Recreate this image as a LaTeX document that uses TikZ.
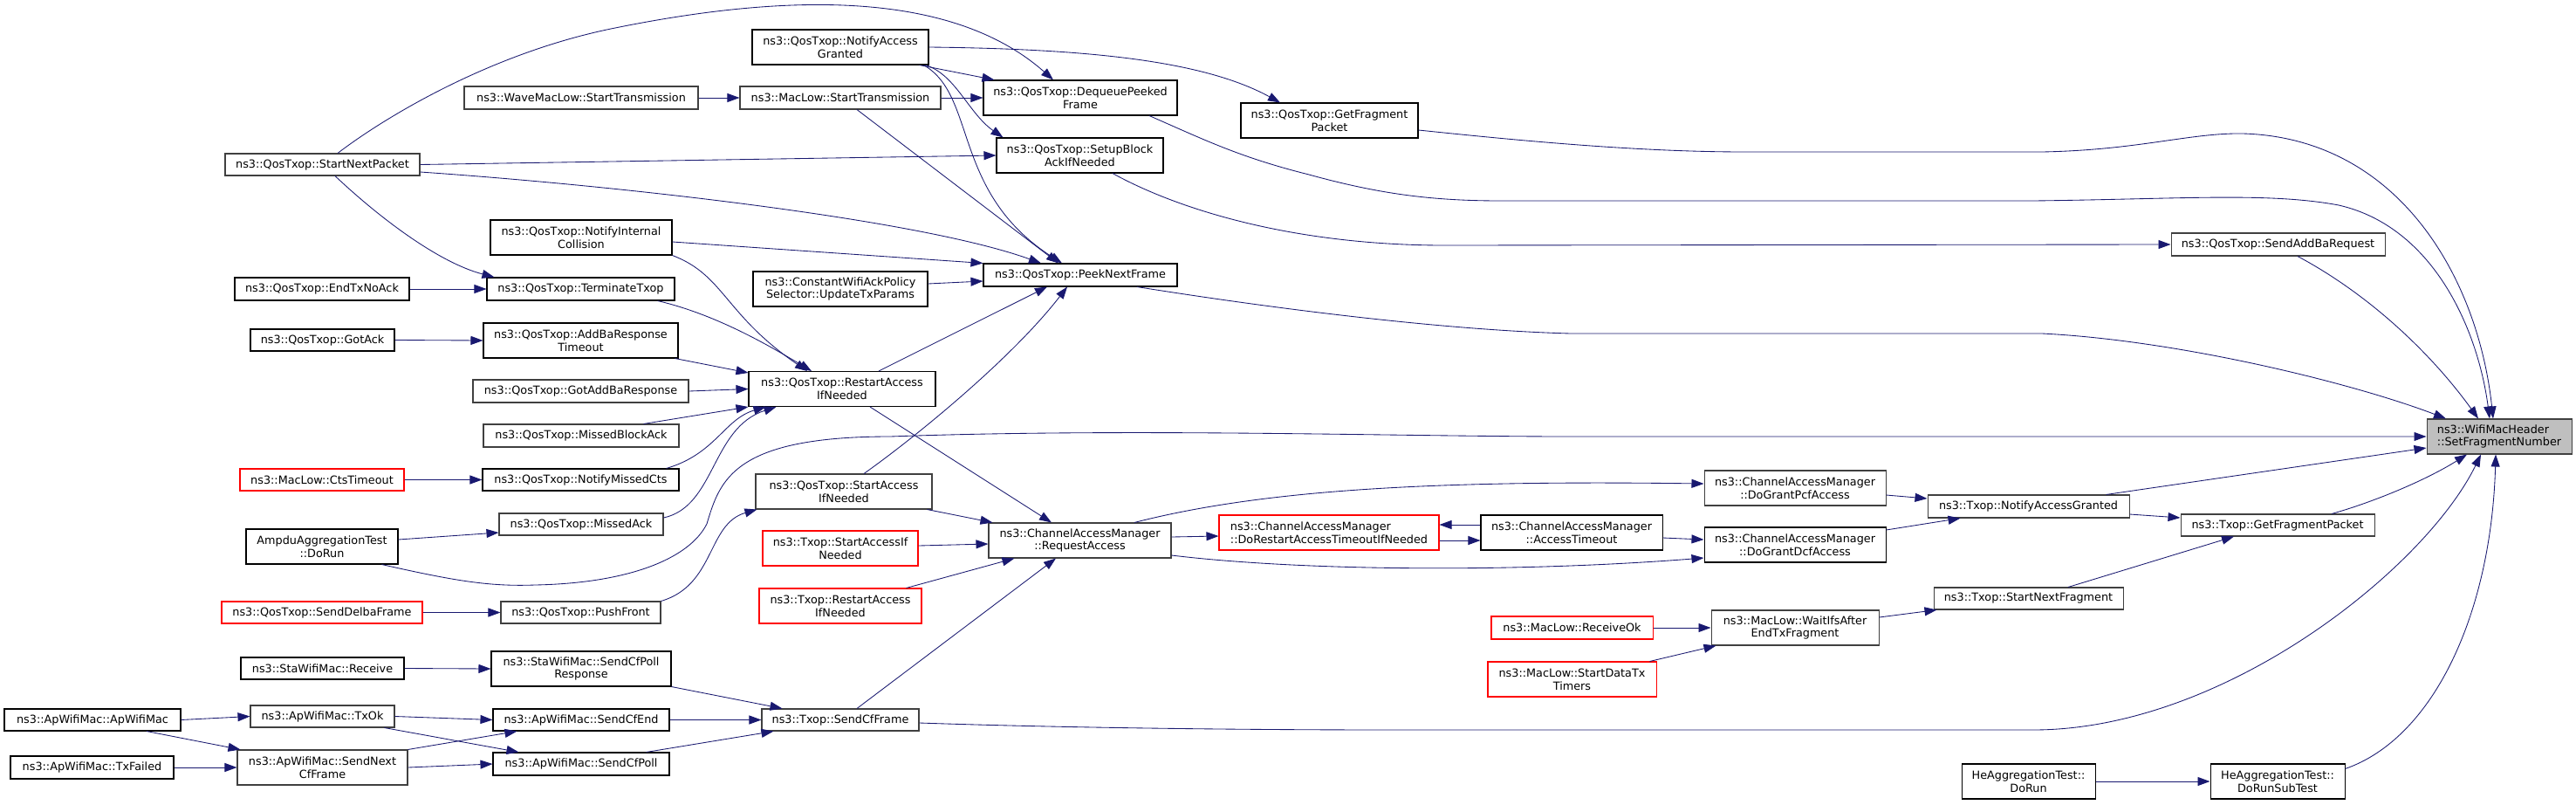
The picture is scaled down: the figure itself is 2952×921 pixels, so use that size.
\documentclass[tikz,border=0pt]{standalone}
\usepackage{fontspec}
\setmainfont{DejaVu Sans}
\usetikzlibrary{arrows.meta,calc}
\definecolor{mb}{HTML}{191970}
\definecolor{gtwentyfive}{HTML}{404040}
\definecolor{gseventyfive}{HTML}{BFBFBF}
\begin{document}
\begin{tikzpicture}[x=1pt,y=-1pt,
  nb/.style={draw=black, fill=white, line width=1.05pt, inner sep=0pt, align=center,
     font=\fontsize{12.8}{14.7}\selectfont},
  ng/.style={nb, draw=gtwentyfive},
  nr/.style={nb, draw=red},
  nroot/.style={nb, draw=gtwentyfive, fill=gseventyfive, align=left},
  sz/.style 2 args={minimum width=#1pt, minimum height=#2pt},
  e/.style={draw=mb, line width=0.85pt, -{Triangle[length=14pt,width=10pt]}}]
\useasboundingbox (0,0) rectangle (2952,921);
\fill[white] (0,0) rectangle (2952,921);

% nodes
\node[ng,sz={223}{25}] (snp) at (369.5,188.5) {ns3::QosTxop::StartNextPacket};
\node[nb,sz={200}{26}] (etna) at (369,331) {ns3::QosTxop::EndTxNoAck};
\node[nb,sz={165}{25}] (gack) at (369.5,389.5) {ns3::QosTxop::GotAck};
\node[nr,sz={188}{25}] (cts) at (369,549.5) {ns3::MacLow::CtsTimeout};
\node[nb,sz={174}{40}] (ampdu) at (369,626) {AmpduAggregationTest\\::DoRun};
\node[nr,sz={230}{25}] (delba) at (369,701.5) {ns3::QosTxop::SendDelbaFrame};
\node[nb,sz={187}{25}] (stareceive) at (369.5,765.5) {ns3::StaWifiMac::Receive};
\node[ng,sz={165}{25}] (txok) at (369.5,820.5) {ns3::ApWifiMac::TxOk};
\node[nb,sz={202}{25}] (apctor) at (106,824.5) {ns3::ApWifiMac::ApWifiMac};
\node[nb,sz={187}{26}] (txfailed) at (105.5,879) {ns3::ApWifiMac::TxFailed};
\node[ng,sz={195}{40}] (sncf) at (369.5,879) {ns3::ApWifiMac::SendNext\\CfFrame};
\node[nb,sz={202}{40}] (nag) at (963,54) {ns3::QosTxop::NotifyAccess\\Granted};
\node[ng,sz={268}{26}] (wave) at (666,112) {ns3::WaveMacLow::StartTransmission};
\node[ng,sz={230}{26}] (mlst) at (963,112) {ns3::MacLow::StartTransmission};
\node[nb,sz={208}{40}] (nic) at (666,272) {ns3::QosTxop::NotifyInternal\\Collision};
\node[nb,sz={200}{40}] (cwap) at (963,331) {ns3::ConstantWifiAckPolicy\\Selector::UpdateTxParams};
\node[nb,sz={215}{26}] (term) at (665.5,331) {ns3::QosTxop::TerminateTxop};
\node[nb,sz={223}{40}] (addbato) at (665.5,390) {ns3::QosTxop::AddBaResponse\\Timeout};
\node[ng,sz={247}{26}] (gotaddba) at (665.5,448) {ns3::QosTxop::GotAddBaResponse};
\node[nb,sz={214}{40}] (restart) at (965,445.5) {ns3::QosTxop::RestartAccess\\IfNeeded};
\node[ng,sz={224}{26}] (mba) at (666,499) {ns3::QosTxop::MissedBlockAck};
\node[nb,sz={225}{25}] (nmc) at (665.5,549.5) {ns3::QosTxop::NotifyMissedCts};
\node[ng,sz={188}{25}] (mack) at (666,600.5) {ns3::QosTxop::MissedAck};
\node[ng,sz={202}{40}] (sai) at (967,563) {ns3::QosTxop::StartAccess\\IfNeeded};
\node[nr,sz={178}{40}] (tsai) at (963,628) {ns3::Txop::StartAccessIf\\Needed};
\node[nr,sz={186}{40}] (trai) at (963,694) {ns3::Txop::RestartAccess\\IfNeeded};
\node[ng,sz={183}{25}] (pushf) at (665.5,701.5) {ns3::QosTxop::PushFront};
\node[nb,sz={206}{40}] (scpr) at (666,766) {ns3::StaWifiMac::SendCfPoll\\Response};
\node[nb,sz={202}{25}] (scfend) at (666,824.5) {ns3::ApWifiMac::SendCfEnd};
\node[nb,sz={202}{26}] (scfpoll) at (666,875) {ns3::ApWifiMac::SendCfPoll};
\node[ng,sz={180}{25}] (scff) at (963,824.5) {ns3::Txop::SendCfFrame};
\node[nb,sz={222}{40}] (dpf) at (1238,112) {ns3::QosTxop::DequeuePeeked\\Frame};
\node[nb,sz={191}{40}] (sbaf) at (1237.5,178) {ns3::QosTxop::SetupBlock\\AckIfNeeded};
\node[nb,sz={222}{26}] (pnf) at (1238,315) {ns3::QosTxop::PeekNextFrame};
\node[nb,sz={203}{40}] (qgfp) at (1523.5,138) {ns3::QosTxop::GetFragment\\Packet};
\node[ng,sz={209}{40}] (ra) at (1237.5,619) {ns3::ChannelAccessManager\\::RequestAccess};
\node[nr,sz={252}{40},align=left] (drat) at (1523,610) {ns3::ChannelAccessManager\\::DoRestartAccessTimeoutIfNeeded};
\node[nb,sz={208}{40}] (at) at (1801,610) {ns3::ChannelAccessManager\\::AccessTimeout};
\node[ng,sz={208}{40}] (dgpcf) at (2057,559) {ns3::ChannelAccessManager\\::DoGrantPcfAccess};
\node[nb,sz={208}{40}] (dgdcf) at (2057,624) {ns3::ChannelAccessManager\\::DoGrantDcfAccess};
\node[nr,sz={185}{26}] (rok) at (1801.5,719) {ns3::MacLow::ReceiveOk};
\node[nr,sz={193}{40}] (sdtt) at (1801.5,778) {ns3::MacLow::StartDataTx\\Timers};
\node[ng,sz={192}{40}] (wifs) at (2057,719) {ns3::MacLow::WaitIfsAfter\\EndTxFragment};
\node[ng,sz={231}{26}] (tnag) at (2324.5,580) {ns3::Txop::NotifyAccessGranted};
\node[ng,sz={217}{25}] (snf) at (2324.5,685.5) {ns3::Txop::StartNextFragment};
\node[nb,sz={153}{40}] (hedorun) at (2324.5,895) {HeAggregationTest::\\DoRun};
\node[ng,sz={245}{26}] (saddba) at (2610.5,280) {ns3::QosTxop::SendAddBaRequest};
\node[nroot,sz={166}{40}] (tgt) at (2864,500) {ns3::WifiMacHeader\\::SetFragmentNumber};
\node[ng,sz={222}{25}] (tgfp) at (2610,601.5) {ns3::Txop::GetFragmentPacket};
\node[nb,sz={154}{40}] (hesub) at (2610,895) {HeAggregationTest::\\DoRunSubTest};

% edges
\begin{scope}[every path/.style={e}]
\draw ($(snp.north)+(17.5,0)$) .. controls (440,135) and (560,62) .. (700,33) .. controls (900,-8) and (1090,-12) .. ($(dpf.north)+(-31,0)$);
\draw (snp.east) -- (sbaf.west);
\draw ($(snp.east)+(0,8.5)$) .. controls (700,212) and (1050,250) .. ($(pnf.north)+(-45,0)$);
\draw ($(snp.south)+(14.5,0)$) .. controls (430,245) and (500,300) .. ($(term.north west)+(9,0)$);
\draw (etna.east) -- (term.west);
\draw (gack.east) -- (addbato.west);
\draw (cts.east) -- (nmc.west);
\draw ($(ampdu.east)+(0,-8)$) -- ($(mack.west)+(0,9.5)$);
\draw ($(ampdu.south east)+(-19,0)$) .. controls (520,665) and (560,672) .. (613,670) .. controls (720,668) and (790,640) .. (810,600) .. controls (825,550) and (840,500) .. (1020,500) .. controls (1300,490) and (1600,500) .. (1800,500) -- (tgt.west);
\draw (delba.east) -- (pushf.west);
\draw (stareceive.east) -- (scpr.west);
\draw (apctor.east) -- (txok.west);
\draw ($(apctor.south)+(62,0)$) -- ($(sncf.north west)+(4,0)$);
\draw (txfailed.east) -- (sncf.west);
\draw (txok.east) -- (scfend.west);
\draw ($(txok.south east)+(-12,0)$) -- ($(scfpoll.north west)+(30,0)$);
\draw (sncf.north east) -- ($(scfend.south west)+(28,0)$);
\draw (sncf.east) -- (scfpoll.west);
\draw (scpr.south east) -- ($(scff.north west)+(24,0)$);
\draw (scfend.east) -- (scff.west);
\draw ($(scfpoll.north east)+(-27,0)$) -- ($(scff.south west)+(14,0)$);
\draw ($(scff.north)+(19,0)$) -- ($(ra.south)+(-27.5,0)$);
\draw ($(scff.east)+(0,3.5)$) .. controls (1200,833) and (1400,836) .. (1600,836) -- (2330,836) .. controls (2550,836) and (2780,650) .. ($(tgt.south)+(-21,0)$);
\draw ($(hesub.north east)+(0,6)$) .. controls (2790,845) and (2855,700) .. ($(tgt.south)+(-4,0)$);
\draw (hedorun.east) -- (hesub.west);
\draw ($(tgfp.north)+(62,0)$) .. controls (2720,575) and (2780,550) .. ($(tgt.south)+(-37,0)$);
\draw ($(tnag.north east)+(-27,0)$) -- ($(tgt.west)+(0,13)$);
\draw ($(tnag.east)+(0,9)$) -- ($(tgfp.west)+(0,-8.5)$);
\draw ($(snf.north)+(45.5,0)$) -- ($(tgfp.south)+(-50,0)$);
\draw ($(dgpcf.east)+(0,8)$) -- ($(tnag.west)+(0,-9)$);
\draw ($(dgdcf.east)+(0,-17)$) -- ($(tnag.south west)+(38,0)$);
\draw ($(wifs.east)+(0,-12)$) -- ($(snf.south west)+(4,0)$);
\draw (rok.east) -- (wifs.west);
\draw ($(sdtt.north east)+(-8,0)$) -- ($(wifs.south west)+(6,0)$);
\draw ($(drat.east)+(0,9)$) -- ($(at.west)+(0,9)$);
\draw ($(at.west)+(0,-9)$) -- ($(drat.east)+(0,-9)$);
\draw ($(at.east)+(0,6)$) -- ($(dgdcf.west)+(0,-6)$);
\draw ($(ra.east)+(0,-4)$) -- ($(drat.west)+(0,4)$);
\draw ($(ra.north)+(62.5,0)$) .. controls (1450,560) and (1650,550) .. ($(dgpcf.west)+(0,-5)$);
\draw ($(ra.east)+(0,17)$) .. controls (1500,655) and (1750,655) .. ($(dgdcf.west)+(0,15)$);
\draw ($(sai.south east)+(-6,0)$) -- ($(ra.north west)+(5,0)$);
\draw ($(tsai.east)+(0,-3)$) -- ($(ra.west)+(0,4)$);
\draw ($(trai.north east)+(-18,0)$) -- ($(ra.south west)+(30,0)$);
\draw ($(restart.south)+(32,0)$) -- ($(ra.north)+(-32.5,0)$);
\draw ($(mlst.south)+(19,0)$) -- ($(pnf.north)+(-25,0)$);
\draw ($(nag.south east)+(-6,0)$) .. controls (1120,110) and (1090,220) .. ($(pnf.north)+(-21,0)$);
\draw ($(nag.south east)+(-11,0)$) -- ($(dpf.north west)+(13,0)$);
\draw ($(nag.south east)+(-4,0)$) .. controls (1095,85) and (1110,130) .. ($(sbaf.north west)+(8,0)$);
\draw (mlst.east) -- (dpf.west);
\draw (wave.east) -- (mlst.west);
\draw (nag.east) .. controls (1250,56) and (1380,70) .. ($(qgfp.north)+(-56.5,0)$);
\draw ($(nic.east)+(0,5)$) -- (pnf.north west);
\draw ($(cwap.east)+(0,-6)$) -- ($(pnf.west)+(0,7)$);
\draw ($(restart.north)+(42,0)$) -- ($(pnf.south)+(-38,0)$);
\draw ($(sai.north)+(23,0)$) .. controls (1050,500) and (1160,410) .. ($(pnf.south)+(-15,0)$);
\draw ($(term.south east)+(-20,0)$) .. controls (820,360) and (880,395) .. ($(restart.north)+(-35,0)$);
\draw (nic.south east) .. controls (830,315) and (830,360) .. ($(restart.north)+(-40,0)$);
\draw ($(addbato.south east)+(-4,0)$) -- ($(restart.north west)+(0,2)$);
\draw (gotaddba.east) -- (restart.west);
\draw ($(mba.north east)+(-41,0)$) -- (restart.south west);
\draw ($(nmc.north east)+(-15,0)$) .. controls (820,520) and (830,480) .. ($(restart.south west)+(20,0)$);
\draw ($(mack.east)+(0,-7.5)$) .. controls (820,580) and (815,490) .. ($(restart.south west)+(32,0)$);
\draw (pushf.north east) .. controls (820,670) and (810,600) .. ($(sai.south west)+(2,0)$);
\draw ($(sbaf.south)+(37.5,0)$) .. controls (1350,240) and (1480,280) .. (1650,281) -- (saddba.west);
\draw ($(saddba.south)+(22.5,0)$) .. controls (2720,340) and (2790,410) .. ($(tgt.north)+(-24,0)$);
\draw ($(qgfp.east)+(0,11)$) .. controls (1750,162) and (1880,174) .. (2000,174) -- (2340,174) .. controls (2450,172) and (2510,152) .. (2570,153) .. controls (2750,158) and (2840,320) .. ($(tgt.north)+(-7,0)$);
\draw ($(dpf.south)+(79,0)$) .. controls (1380,160) and (1420,180) .. (1500,200) .. controls (1580,222) and (1640,230) .. (1720,230) -- (2330,230) .. controls (2500,228) and (2600,220) .. (2680,235) .. controls (2790,260) and (2840,380) .. ($(tgt.north)+(-11,0)$);
\draw ($(pnf.south)+(65,0)$) .. controls (1450,352) and (1650,378) .. (1800,382) -- (2340,382) .. controls (2500,390) and (2700,440) .. ($(tgt.north)+(-61,0)$);
\end{scope}
\end{tikzpicture}
\end{document}
